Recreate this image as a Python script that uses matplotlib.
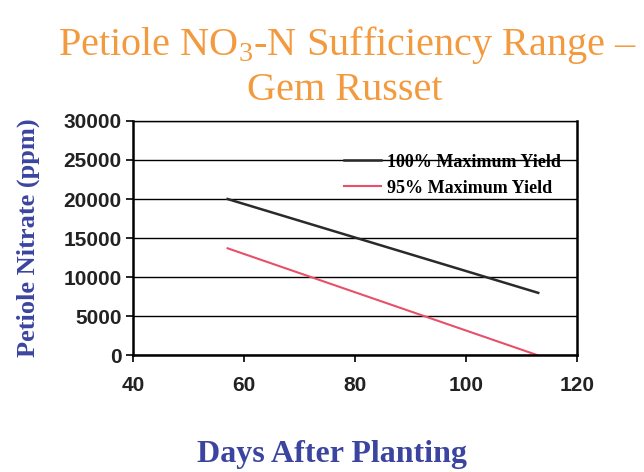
import matplotlib.pyplot as plt

# values
days = [57, 113]
yield_100 = [20000, 8000]
yield_95 = [13700, 0]
y_ticks = [0, 5000, 10000, 15000, 20000, 25000, 30000]
x_ticks = [40, 60, 80, 100, 120]

serif = "Liberation Serif"
sans = "Liberation Sans"
blue = "#3b45a0"
orange = "#f39a3e"

plt.rcParams["mathtext.fontset"] = "custom"
plt.rcParams["mathtext.rm"] = serif

fig = plt.figure(figsize=(6.44, 4.72), dpi=100)
ax = fig.add_axes([0.207, 0.247, 0.689, 0.497])

ax.plot(days, yield_100, color="#2a2a2a", linewidth=1.8, label="100% Maximum Yield")
ax.plot(days, yield_95, color="#e8506a", linewidth=1.5, label="95% Maximum Yield")

ax.set_xlim(40, 120)
ax.set_ylim(0, 30000)
ax.set_xticks(x_ticks)
ax.set_yticks(y_ticks)
ax.yaxis.grid(True, color="black", linewidth=1.0)
ax.set_axisbelow(True)

for s in ["left", "bottom", "right"]:
    ax.spines[s].set_linewidth(1.8)
ax.spines["top"].set_linewidth(1.0)

ax.tick_params(axis="both", direction="out", length=5, width=1.2)
ax.tick_params(axis="x", pad=10)
for lab in ax.get_xticklabels() + ax.get_yticklabels():
    lab.set_fontfamily(sans)
    lab.set_fontweight("bold")
    lab.set_fontsize(15)
    lab.set_color("#222222")

ax.set_ylabel("Petiole Nitrate (ppm)", family=serif, fontweight="bold",
              fontsize=19, color=blue, labelpad=17)
ax.set_xlabel("Days After Planting", family=serif, fontweight="bold",
              fontsize=23, color=blue)
ax.xaxis.set_label_coords(0.448, -0.36)

leg = ax.legend(loc="upper right", frameon=False, handlelength=2.1,
                prop={"family": serif, "weight": "bold", "size": 13},
                bbox_to_anchor=(1.0, 0.93), labelspacing=0.5, handletextpad=0.3)

fig.text(0.54, 0.905, "Petiole NO$_3$-N Sufficiency Range \u2013", ha="center",
         va="center", family=serif, fontsize=29, color=orange)
fig.text(0.535, 0.808, "Gem Russet", ha="center", va="center",
         family=serif, fontsize=29, color=orange)

fig.savefig("out.png", dpi=100)
